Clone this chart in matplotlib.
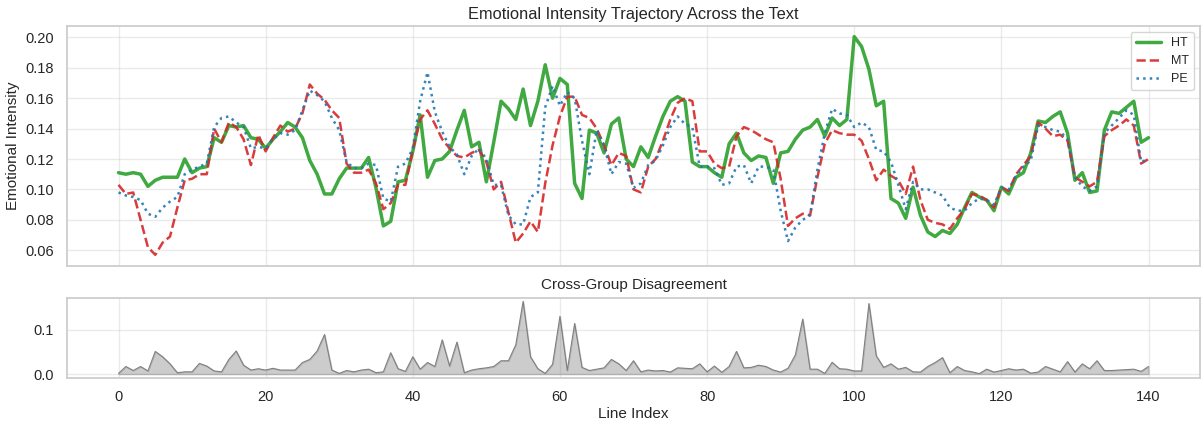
import numpy as np
import matplotlib
matplotlib.use("Agg")
import matplotlib.pyplot as plt
from matplotlib.ticker import MultipleLocator, FormatStrFormatter
import seaborn as sns

ht = [0.111, 0.110, 0.111, 0.110, 0.102, 0.106, 0.108, 0.108, 0.108, 0.120,
      0.111, 0.114, 0.115, 0.134, 0.131, 0.142, 0.141, 0.142, 0.134, 0.133,
      0.127, 0.133, 0.138, 0.144, 0.141, 0.134, 0.119, 0.110, 0.097, 0.097,
      0.107, 0.114, 0.114, 0.114, 0.121, 0.101, 0.076, 0.079, 0.105, 0.106,
      0.125, 0.149, 0.108, 0.119, 0.120, 0.125, 0.139, 0.152, 0.128, 0.131,
      0.105, 0.131, 0.158, 0.153, 0.146, 0.166, 0.142, 0.158, 0.182, 0.160,
      0.173, 0.169, 0.104, 0.094, 0.139, 0.137, 0.124, 0.143, 0.147, 0.120,
      0.115, 0.128, 0.121, 0.135, 0.148, 0.158, 0.161, 0.158, 0.118, 0.115,
      0.115, 0.111, 0.108, 0.130, 0.137, 0.124, 0.119, 0.122, 0.121, 0.104,
      0.124, 0.125, 0.133, 0.139, 0.141, 0.146, 0.135, 0.147, 0.142, 0.146,
      0.2005, 0.194, 0.179, 0.155, 0.158, 0.094, 0.091, 0.081, 0.1015, 0.083,
      0.072, 0.069, 0.073, 0.071, 0.077, 0.088, 0.098, 0.095, 0.093, 0.086,
      0.1015, 0.097, 0.108, 0.111, 0.124, 0.145, 0.144, 0.148, 0.151, 0.137,
      0.106, 0.111, 0.098, 0.099, 0.139, 0.151, 0.150, 0.154, 0.158, 0.131,
      0.134]
mt = [0.103, 0.097, 0.098, 0.080, 0.062, 0.057, 0.065, 0.069, 0.088, 0.106,
      0.107, 0.110, 0.110, 0.140, 0.131, 0.144, 0.141, 0.133, 0.116, 0.136,
      0.125, 0.134, 0.142, 0.138, 0.140, 0.150, 0.169, 0.163, 0.159, 0.152,
      0.147, 0.117, 0.111, 0.111, 0.113, 0.104, 0.087, 0.091, 0.103, 0.103,
      0.126, 0.146, 0.152, 0.143, 0.133, 0.127, 0.122, 0.121, 0.124, 0.126,
      0.118, 0.100, 0.105, 0.085, 0.065, 0.071, 0.079, 0.072, 0.104, 0.129,
      0.148, 0.161, 0.161, 0.149, 0.147, 0.140, 0.129, 0.116, 0.124, 0.122,
      0.100, 0.098, 0.115, 0.120, 0.132, 0.146, 0.157, 0.160, 0.158, 0.125,
      0.125, 0.117, 0.114, 0.115, 0.135, 0.141, 0.139, 0.136, 0.133, 0.131,
      0.107, 0.076, 0.081, 0.084, 0.083, 0.108, 0.130, 0.139, 0.137, 0.136,
      0.136, 0.132, 0.120, 0.106, 0.113, 0.109, 0.106, 0.097, 0.115, 0.093,
      0.080, 0.078, 0.077, 0.074, 0.081, 0.087, 0.097, 0.096, 0.093, 0.088,
      0.1015, 0.099, 0.110, 0.116, 0.122, 0.144, 0.140, 0.135, 0.136, 0.132,
      0.108, 0.105, 0.102, 0.105, 0.135, 0.139, 0.142, 0.146, 0.142, 0.117,
      0.120]
pe = [0.098, 0.096, 0.095, 0.093, 0.084, 0.082, 0.088, 0.092, 0.095, 0.110,
      0.113, 0.115, 0.117, 0.141, 0.147, 0.148, 0.144, 0.141, 0.127, 0.128,
      0.127, 0.133, 0.137, 0.136, 0.139, 0.152, 0.165, 0.162, 0.158, 0.147,
      0.139, 0.118, 0.114, 0.114, 0.117, 0.116, 0.094, 0.092, 0.115, 0.117,
      0.127, 0.158, 0.177, 0.151, 0.138, 0.128, 0.123, 0.110, 0.122, 0.127,
      0.120, 0.103, 0.103, 0.083, 0.077, 0.077, 0.095, 0.098, 0.154, 0.168,
      0.155, 0.164, 0.160, 0.132, 0.110, 0.139, 0.129, 0.110, 0.118, 0.117,
      0.101, 0.104, 0.116, 0.119, 0.129, 0.141, 0.148, 0.143, 0.141, 0.115,
      0.115, 0.114, 0.103, 0.104, 0.115, 0.116, 0.104, 0.115, 0.115, 0.113,
      0.086, 0.066, 0.075, 0.080, 0.083, 0.113, 0.137, 0.153, 0.150, 0.149,
      0.141, 0.144, 0.141, 0.126, 0.125, 0.118, 0.103, 0.087, 0.105, 0.100,
      0.100, 0.098, 0.096, 0.088, 0.086, 0.086, 0.091, 0.094, 0.093, 0.090,
      0.101, 0.100, 0.109, 0.115, 0.119, 0.142, 0.141, 0.139, 0.138, 0.133,
      0.108, 0.102, 0.099, 0.102, 0.137, 0.142, 0.147, 0.152, 0.149, 0.118,
      0.120]
disagreement = [0.0015, 0.017, 0.008, 0.017, 0.007, 0.051, 0.039, 0.023, 0.003, 0.005,
                0.005, 0.024, 0.018, 0.007, 0.005, 0.033, 0.052, 0.020, 0.009, 0.012,
                0.009, 0.013, 0.009, 0.009, 0.009, 0.026, 0.033, 0.052, 0.089, 0.009,
                0.0015, 0.008, 0.005, 0.009, 0.011, 0.003, 0.005, 0.048, 0.012, 0.006,
                0.039, 0.011, 0.026, 0.017, 0.077, 0.018, 0.072, 0.003, 0.009, 0.012,
                0.014, 0.017, 0.030, 0.030, 0.066, 0.164, 0.039, 0.012, 0.0015, 0.022,
                0.130, 0.008, 0.114, 0.015, 0.008, 0.011, 0.014, 0.033, 0.023, 0.008,
                0.030, 0.005, 0.009, 0.007, 0.008, 0.0045, 0.014, 0.013, 0.012, 0.023,
                0.005, 0.018, 0.004, 0.017, 0.051, 0.014, 0.015, 0.020, 0.017, 0.009,
                0.0045, 0.013, 0.043, 0.124, 0.011, 0.011, 0.0015, 0.0265, 0.012, 0.011,
                0.007, 0.007, 0.159, 0.041, 0.015, 0.023, 0.011, 0.015, 0.005, 0.0045,
                0.017, 0.026, 0.037, 0.003, 0.017, 0.008, 0.005, 0.001, 0.011, 0.0045,
                0.008, 0.012, 0.009, 0.011, 0.002, 0.0045, 0.017, 0.011, 0.005, 0.028,
                0.0045, 0.023, 0.012, 0.030, 0.008, 0.008, 0.009, 0.010, 0.011, 0.006,
                0.017]
line_index = np.arange(len(ht))

sns.set_theme(style="whitegrid")
plt.rcParams['font.family'] = ['Liberation Sans', 'DejaVu Sans']

fig, (ax1, ax2) = plt.subplots(2, 1, figsize=(12.02, 4.21), dpi=100, sharex=True,
                               gridspec_kw={'height_ratios': [3, 1]})

ax1.plot(line_index, ht, color='#2ca02c', lw=2.5, ls='-', alpha=0.9, label='HT')
ax1.plot(line_index, mt, color='#d62728', lw=1.8, ls='--', alpha=0.9, label='MT')
ax1.plot(line_index, pe, color='#1f77b4', lw=1.8, ls=':', alpha=0.9, label='PE')
ax1.set_ylabel('Emotional Intensity', fontsize=11)
ax1.set_title('Emotional Intensity Trajectory Across the Text', fontsize=11.8, pad=5)
ax1.legend(loc='upper right', fontsize=9)
ax1.yaxis.set_major_locator(MultipleLocator(0.02))
ax1.yaxis.set_major_formatter(FormatStrFormatter('%.2f'))
ax1.tick_params(labelsize=10.5)
ax1.grid(alpha=0.4)

ax2.fill_between(line_index, disagreement, color='gray', alpha=0.4)
ax2.plot(line_index, disagreement, color='gray', lw=0.8)
ax2.set_title('Cross-Group Disagreement', fontsize=11)
ax2.set_xlabel('Line Index', fontsize=11, labelpad=2)
ax2.tick_params(labelsize=10.5)
ax2.tick_params(axis='x', pad=3)
ax2.grid(alpha=0.4)

ax1.set_position([67 / 1202, 1 - 265.7 / 421, (1200 - 67) / 1202, 240 / 421])
ax2.set_position([67 / 1202, 1 - 377.7 / 421, (1200 - 67) / 1202, 80 / 421])

fig.savefig('out.png', dpi=100)
